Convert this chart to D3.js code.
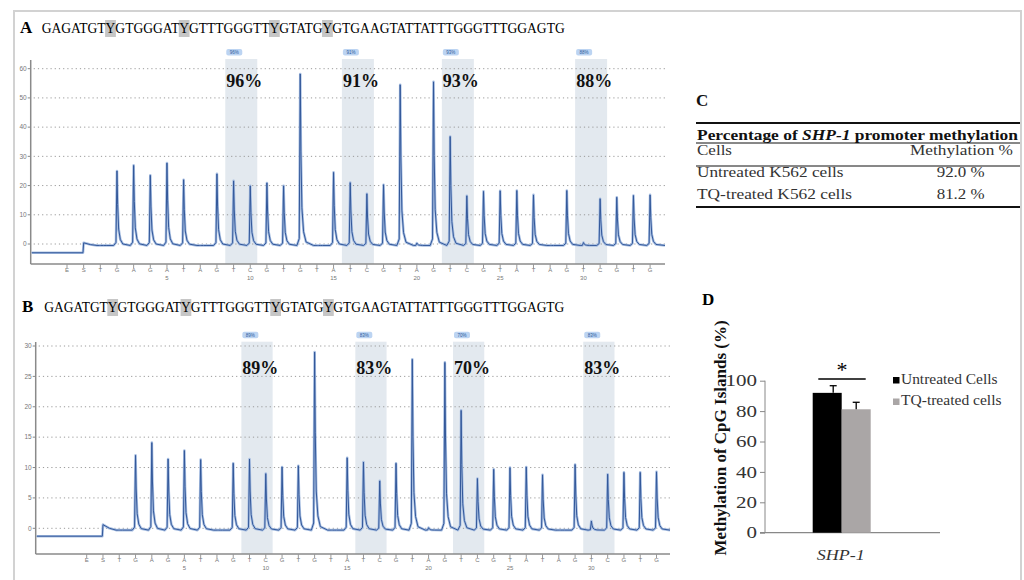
<!DOCTYPE html>
<html>
<head>
<meta charset="utf-8">
<script src="https://cdn.jsdelivr.net/npm/d3@7"></script>
<style>
  body { margin: 0; background: #fff; }
  svg { display: block; }
</style>
</head>
<body>
<script>
// dispensation order (E, S then 34 numbered dispensations)
const dispensations = ['E','S','T','G','A','G','A','T','A','G','T','C','G','T','G','T','A','T','C','G','T','A','G','T','C','G','T','A','T','A','G','T','C','G','T','G']
const sequence = 'GAGATGTYGTGGGATYGTTTGGGTTYGTATGYGTGAAGTATTATTTGGGTTTGGAGTG'

// peak heights for dispensations 1..34
const peaksA = [0, 25.5, 27.4, 24, 28.2, 22.5, 0, 24.5, 22.1, 20.4, 21.4, 20.4, 58.7, 0, 25, 21.5, 17.7, 20.8, 55, 0.8,
  56, 37.3, 17, 18.5, 18.7, 18.8, 17.3, 0, 18.8, 1, 16, 16.5, 17.1, 17.3]
const peaksB = [0, 12.3, 14.4, 11.7, 13.1, 11.6, 0, 11, 11.7, 9.3, 10.4, 10.6, 29.3, 0, 11.9, 11.2, 8.1, 11, 28.1, 0.4,
  27.6, 19.7, 8.5, 10, 10.3, 10.4, 9.1, 0, 10.8, 1.5, 9.2, 9.5, 9.5, 9.6]

// CpG sites (dispensation numbers T..C)
const cpgSites = [[9, 10], [16, 17], [22, 23], [30, 31]]
const methA = [96, 91, 93, 88]
const methB = [89, 83, 70, 83]
const yTicksA = [0, 10, 20, 30, 40, 50, 60]
const yTicksB = [0, 5, 10, 15, 20, 25, 30]

// table C
const tableTitle = ['Percentage of ', 'SHP-1', ' promoter methylation']
const tableHead = ['Cells', 'Methylation %']
const tableRows = [['Untreated K562 cells', '92.0 %'], ['TQ-treated K562 cells', '81.2 %']]

// bar chart D
const genes = ['SHP-1']
const groups = ['Untreated Cells', 'TQ-treated cells']
const means = [92.0, 81.2]
const errs = [4.7, 4.6]
const barColors = ['#000000', '#aaa6a6']
const yTicksD = [0, 20, 40, 60, 80, 100]

const serif = '"Liberation Serif", "Times New Roman", serif'
const sans = '"Liberation Sans", Arial, sans-serif'

const svg = d3.select('body').append('svg').attr('width', 1024).attr('height', 580)

// outer frame
svg.append('rect').attr('x', 14).attr('y', 11).attr('width', 1007).attr('height', 600)
  .attr('fill', 'none').attr('stroke', '#d2d2d2').attr('stroke-width', 2)

// the source figure is a bit stretched sideways, so texts get a fixed width
function wide(sel, w) {
  return sel.attr('textLength', w).attr('lengthAdjust', 'spacingAndGlyphs')
}

function pyrogram(o) {
  let g = svg.append('g')
  g.append('text').attr('x', o.labelX).attr('y', o.seqY)
    .attr('font-family', serif).attr('font-weight', 'bold').attr('font-size', 17).text(o.label)

  let hl = g.append('g')
  let seq = wide(g.append('text').attr('x', o.seqX).attr('y', o.seqY)
    .attr('font-family', serif).attr('font-size', 14.5), o.seqW)
    .text(sequence)
  let node = seq.node()
  for (let i = 0; i < sequence.length; i++) {
    if (sequence[i] !== 'Y') continue
    let b = node.getExtentOfChar(i)
    hl.append('rect').attr('x', b.x - 0.5).attr('y', o.seqY - 13).attr('width', b.width + 1).attr('height', 17)
      .attr('fill', '#c6c6c6')
  }

  let x = d3.scaleLinear().domain([0, dispensations.length - 1])
    .range([o.x0, o.x0 + (dispensations.length - 1) * o.step])
  let y = d3.scaleLinear().domain([0, o.yMax]).range([o.yZero, o.yTop])
  let s = o.step

  // CpG bands
  cpgSites.forEach((c, k) => {
    let x1 = x(c[0] + 1) - 0.5 * s
    let x2 = x(c[1] + 1) + 0.42 * s
    g.append('rect').attr('x', x1).attr('y', o.bandTop).attr('width', x2 - x1).attr('height', o.axisY - o.bandTop)
      .attr('fill', '#e3e9ef')
    g.append('rect').attr('x', x1 + 1).attr('y', o.bandTop - 10).attr('width', 16).attr('height', 6.5).attr('rx', 2)
      .attr('fill', '#bcd4f2')
    g.append('text').attr('x', x1 + 9).attr('y', o.bandTop - 5.2).attr('text-anchor', 'middle')
      .attr('font-family', sans).attr('font-size', 4.5).attr('fill', '#2d5a9a').text(o.meth[k] + '%')
    g.append('text').attr('x', x1 + 1).attr('y', o.bigY)
      .attr('font-family', serif).attr('font-weight', 'bold').attr('font-size', 18).attr('fill', '#111')
      .text(o.meth[k] + '%')
  })

  // grid
  o.yTicks.forEach(t => {
    g.append('line').attr('x1', o.axisX + 3).attr('x2', o.xEnd).attr('y1', y(t)).attr('y2', y(t))
      .attr('stroke', '#9a9a9a').attr('stroke-width', 1).attr('stroke-dasharray', '1.2,3')
    g.append('line').attr('x1', o.axisX - 3).attr('x2', o.axisX).attr('y1', y(t)).attr('y2', y(t))
      .attr('stroke', '#888')
    g.append('text').attr('x', o.axisX - 4).attr('y', y(t) + 2.3).attr('text-anchor', 'end')
      .attr('font-family', sans).attr('font-size', 6.5).attr('fill', '#777').text(t)
  })

  // axes
  g.append('line').attr('x1', o.axisX).attr('x2', o.axisX).attr('y1', o.axisTop).attr('y2', o.axisY)
    .attr('stroke', '#8a8a8a').attr('stroke-width', 1.5)
  g.append('line').attr('x1', o.axisX).attr('x2', o.xEnd).attr('y1', o.axisY).attr('y2', o.axisY)
    .attr('stroke', '#8a8a8a').attr('stroke-width', 1.5)
  dispensations.forEach((d, i) => {
    g.append('line').attr('x1', x(i)).attr('x2', x(i)).attr('y1', o.axisY).attr('y2', o.axisY + 4)
      .attr('stroke', '#999')
    g.append('text').attr('x', x(i)).attr('y', o.axisY + 7.5).attr('text-anchor', 'middle')
      .attr('font-family', sans).attr('font-size', 6).attr('fill', '#777').text(d)
    if (i > 1 && (i - 1) % 5 === 0) {
      g.append('text').attr('x', x(i)).attr('y', o.axisY + 16).attr('text-anchor', 'middle')
        .attr('font-family', sans).attr('font-size', 6).attr('fill', '#777').text(i - 1)
    }
  })

  // trace
  let pts = [[o.axisX + 1, o.pre], [x(1) - 0.04 * s, o.pre], [x(1), o.post + 0.9], [x(1) + 0.4 * s, o.post + 0.3]]
  o.peaks.forEach((h, k) => {
    let xc = x(k + 2)
    let b = o.post
    pts.push([xc - 0.2 * s, b], [xc - 0.06 * s, b + 0.04 * h], [xc, b + h], [xc + 0.04 * s, b + 0.55 * h],
      [xc + 0.1 * s, b + 0.22 * h], [xc + 0.2 * s, b + 0.08 * h], [xc + 0.35 * s, b + 0.02 * h])
  })
  pts.push([o.xEnd, o.post])
  let line = d3.line().x(d => d[0]).y(d => y(d[1]))
  g.append('path').attr('d', line(pts)).attr('fill', 'none')
    .attr('stroke', '#a8bfe2').attr('stroke-width', 2.6).attr('stroke-linejoin', 'round')
  g.append('path').attr('d', line(pts)).attr('fill', 'none')
    .attr('stroke', '#33589a').attr('stroke-width', 1).attr('stroke-linejoin', 'round')
}

pyrogram({
  label: 'A', labelX: 20, seqX: 41.7, seqY: 33, seqW: 523,
  x0: 67, step: 16.66, yZero: 244, yTop: 68.7, yMax: 60, yTicks: yTicksA,
  axisX: 30.7, axisTop: 60, axisY: 264, xEnd: 665, bandTop: 59, bigY: 87,
  meth: methA, peaks: peaksA, pre: -3, post: -0.5
})

pyrogram({
  label: 'B', labelX: 22, seqX: 44.3, seqY: 312, seqW: 520,
  x0: 86.7, step: 16.28, yZero: 528.3, yTop: 346, yMax: 30, yTicks: yTicksB,
  axisX: 35.7, axisTop: 342, axisY: 554, xEnd: 670, bandTop: 341.7, bigY: 373.5,
  meth: methB, peaks: peaksB, pre: -1.3, post: -0.3
})

// ---- C table
let c = svg.append('g').attr('font-family', serif).attr('font-size', 14.5).attr('fill', '#111')
c.append('text').attr('x', 696).attr('y', 106).attr('font-weight', 'bold').attr('font-size', 17).text('C')
c.append('line').attr('x1', 696).attr('x2', 1020).attr('y1', 123).attr('y2', 123).attr('stroke', '#111').attr('stroke-width', 2)
let tt = wide(c.append('text').attr('x', 697).attr('y', 139.5).attr('font-weight', 'bold').attr('font-size', 15), 321)
tableTitle.forEach((t, i) => tt.append('tspan').attr('font-style', i === 1 ? 'italic' : 'normal').text(t))
c.append('line').attr('x1', 696).attr('x2', 1020).attr('y1', 143).attr('y2', 143).attr('stroke', '#111').attr('stroke-width', 1)
wide(c.append('text').attr('x', 697).attr('y', 154.5).attr('fill', '#333'), 35).text(tableHead[0])
wide(c.append('text').attr('x', 910).attr('y', 154.5).attr('fill', '#333'), 103).text(tableHead[1])
c.append('line').attr('x1', 696).attr('x2', 1020).attr('y1', 166).attr('y2', 166).attr('stroke', '#111').attr('stroke-width', 1)
const rowW = [146.5, 155]
tableRows.forEach((r, i) => {
  wide(c.append('text').attr('x', 697).attr('y', 177 + i * 21.5).attr('fill', '#333'), rowW[i]).text(r[0])
  wide(c.append('text').attr('x', 936.7).attr('y', 177 + i * 21.5).attr('fill', '#333'), 48).text(r[1])
})
c.append('line').attr('x1', 696).attr('x2', 1020).attr('y1', 207).attr('y2', 207).attr('stroke', '#111').attr('stroke-width', 2)

// ---- D bar chart
let d = svg.append('g').attr('font-family', serif)
d.append('text').attr('x', 702).attr('y', 305).attr('font-weight', 'bold').attr('font-size', 17).text('D')

let yD = d3.scaleLinear().domain([0, 100]).range([532.7, 380.7])
let xD = d3.scaleBand().domain(genes).range([765, 918]).paddingInner(0)
let xSub = d3.scaleBand().domain(groups).range([812.7, 870.7])

let yAxis = d.append('g').attr('transform', 'translate(765,0)')
  .call(d3.axisLeft(yD).tickValues(yTicksD).tickSize(5).tickPadding(3))
yAxis.selectAll('text').attr('font-family', serif).attr('font-size', 16).attr('fill', '#333')
  .each(function (t) { wide(d3.select(this), String(t).length * 10.5) })
yAxis.selectAll('line').attr('stroke', '#888')
yAxis.select('.domain').attr('stroke', '#888').attr('d', 'M0,' + yD(100) + 'V' + yD(0))

d.append('line').attr('x1', 760).attr('x2', 940).attr('y1', yD(0)).attr('y2', yD(0)).attr('stroke', '#888').attr('stroke-width', 1.2)

groups.forEach((gname, i) => {
  let bx = xSub(gname)
  d.append('rect').attr('x', bx).attr('y', yD(means[i])).attr('width', xSub.bandwidth())
    .attr('height', yD(0) - yD(means[i])).attr('fill', barColors[i])
  let cx = bx + xSub.bandwidth() / 2 + (i === 0 ? 6 : 0)
  d.append('line').attr('x1', cx).attr('x2', cx).attr('y1', yD(means[i])).attr('y2', yD(means[i] + errs[i]))
    .attr('stroke', '#000').attr('stroke-width', 1.3)
  d.append('line').attr('x1', cx - 3.5).attr('x2', cx + 3.5).attr('y1', yD(means[i] + errs[i])).attr('y2', yD(means[i] + errs[i]))
    .attr('stroke', '#000').attr('stroke-width', 1.3)
})

// significance
d.append('line').attr('x1', 818.3).attr('x2', 865.7).attr('y1', 379).attr('y2', 379).attr('stroke', '#000').attr('stroke-width', 1.5)
d.append('text').attr('x', 842).attr('y', 377).attr('text-anchor', 'middle').attr('font-size', 22).text('*')

wide(d.append('text').attr('x', 816.7).attr('y', 560)
  .attr('font-style', 'italic').attr('font-size', 15).attr('fill', '#333'), 48).text(genes[0])

d.append('text').attr('transform', 'translate(726,438) rotate(-90)').attr('text-anchor', 'middle')
  .attr('font-weight', 'bold').attr('font-size', 17).attr('fill', '#111').text('Methylation of CpG Islands (%)')

const legendW = [96.5, 100.5]
groups.forEach((gname, i) => {
  let ly = 383.5 + i * 21.5
  d.append('rect').attr('x', 893).attr('y', ly - 6.5).attr('width', 6.5).attr('height', 6.5).attr('fill', barColors[i])
  wide(d.append('text').attr('x', 901).attr('y', ly).attr('font-size', 14).attr('fill', '#333'), legendW[i]).text(gname)
})
</script>
</body>
</html>
